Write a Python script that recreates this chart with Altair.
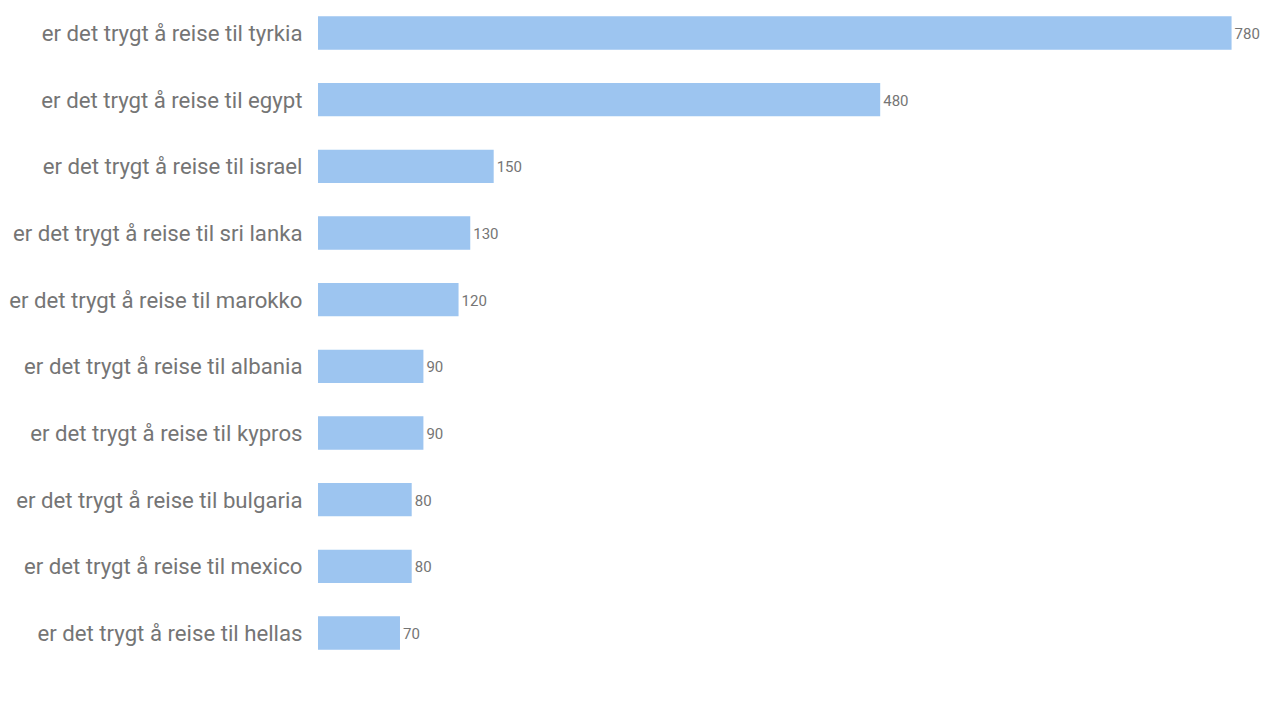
import altair as alt
import pandas as pd

labels = [
    "er det trygt å reise til tyrkia",
    "er det trygt å reise til egypt",
    "er det trygt å reise til israel",
    "er det trygt å reise til sri lanka",
    "er det trygt å reise til marokko",
    "er det trygt å reise til albania",
    "er det trygt å reise til kypros",
    "er det trygt å reise til bulgaria",
    "er det trygt å reise til mexico",
    "er det trygt å reise til hellas",
]
values = [780, 480, 150, 130, 120, 90, 90, 80, 80, 70]

df = pd.DataFrame({"label": labels, "value": values})

y = alt.Y(
    "label:N",
    sort=labels,
    title=None,
    scale=alt.Scale(paddingInner=0.5, paddingOuter=0.125),
    axis=alt.Axis(
        domain=False, ticks=False, labelFontSize=22.2, labelFont="Roboto",
        labelColor="#757575", labelPadding=16, labelLimit=400, labelOffset=1,
    ),
)
x = alt.X(
    "value:Q", title=None,
    scale=alt.Scale(domain=[0, 800], nice=False),
    axis=None,
)

bars = alt.Chart(df).mark_bar(color="#9dc5f0").encode(x=x, y=y)
text = alt.Chart(df).mark_text(
    align="left", baseline="middle", dx=3, dy=1, fontSize=15, font="Roboto", color="#757575"
).encode(x=x, y=y, text="value:Q")

chart = (bars + text).properties(
    width=937, height=650,
    autosize=alt.AutoSizeParams(type="none"),
    padding={"left": 310, "top": 0, "right": 17, "bottom": 40},
).configure_view(stroke=None).configure_axis(grid=False)

chart.save("out.html", embed_options={"renderer": "svg", "actions": False})
